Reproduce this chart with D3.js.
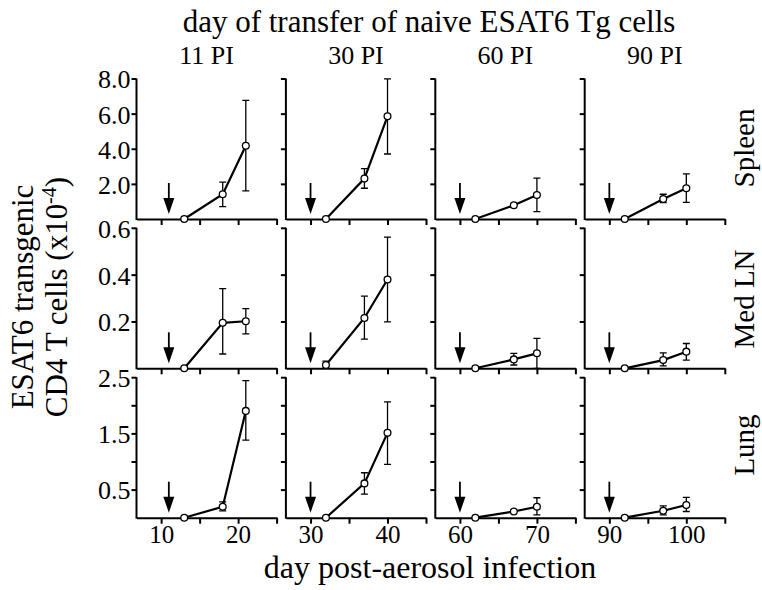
<!DOCTYPE html>
<html>
<head>
<meta charset="utf-8">
<script src="https://cdn.jsdelivr.net/npm/d3@7"></script>
<style>
  body { margin: 0; background: #fff; }
  svg text { font-family: "Liberation Serif", "Times New Roman", serif; fill: #000; }
</style>
</head>
<body>
<div class="chart"></div>
<script>
// panel titles / rows
const columns = ["11 PI", "30 PI", "60 PI", "90 PI"];
const transferDays = [11, 30, 60, 90];
const firstTicks = [10, 30, 60, 90];
const rowNames = ["Spleen", "Med LN", "Lung"];

// days sampled in each column
const days = [[13, 18, 21], [32, 37, 40], [62, 67, 70], [92, 97, 100]];

// Spleen (x10^-4)
const spleenMean = [[0, 1.41, 4.17], [0, 2.30, 5.85], [0, 0.78, 1.37], [0, 1.14, 1.75]];
const spleenLo   = [[0, 0.70, 1.60], [0, 1.75, 3.70], [0, 0.78, 0.42], [0, 0.93, 0.95]];
const spleenHi   = [[0, 2.10, 6.76], [0, 2.87, 7.98], [0, 0.78, 2.33], [0, 1.41, 2.57]];

// Med LN
const medMean = [[0, 0.194, 0.201], [0.014, 0.215, 0.379], [0, 0.038, 0.064], [0, 0.035, 0.071]];
const medLo   = [[0, 0.061, 0.147], [0, 0.125, 0.198], [0, 0.014, 0], [0, 0.010, 0.035]];
const medHi   = [[0, 0.340, 0.255], [0.031, 0.308, 0.560], [0, 0.064, 0.128], [0, 0.066, 0.106]];

// Lung
const lungMean = [[0, 0.195, 1.90], [0, 0.61, 1.51], [0, 0.11, 0.195], [0, 0.124, 0.225]];
const lungLo   = [[0, 0.12, 1.38], [0, 0.42, 0.95], [0, 0.11, 0.05], [0, 0.05, 0.11]];
const lungHi   = [[0, 0.28, 2.44], [0, 0.80, 2.06], [0, 0.11, 0.355], [0, 0.21, 0.36]];

// y axes per row
const yMax = [8, 0.6, 2.5];
const yTicks = [[2, 4, 6, 8], [0.2, 0.4, 0.6], [0.5, 1, 1.5, 2, 2.5]];
const yLabelled = [[2, 4, 6, 8], [0.2, 0.4, 0.6], [0.5, 1.5, 2.5]];

const rowData = [
  [spleenMean, spleenLo, spleenHi],
  [medMean, medLo, medHi],
  [lungMean, lungLo, lungHi]
];

const W = 762, H = 590;
const left0 = 136.5, colStep = 149.4, pw = 140.1;
const bottoms = [219, 368.3, 517.7], ph = 140.5;

const svg = d3.select(".chart").append("svg")
  .attr("width", W).attr("height", H);

// headings
svg.append("text")
  .attr("x", 429).attr("y", 32)
  .attr("text-anchor", "middle")
  .style("font-size", "31px")
  .text("day of transfer of naive ESAT6 Tg cells");

const line = d3.line();

for (let c = 0; c < 4; c++) {
  const L = left0 + c * colStep;
  const x = d3.scaleLinear()
    .domain([firstTicks[c] - 3.2, firstTicks[c] + 15])
    .range([L, L + pw]);

  svg.append("text")
    .attr("x", L + pw / 2).attr("y", 64)
    .attr("text-anchor", "middle")
    .style("font-size", "26px")
    .text(columns[c]);

  for (let r = 0; r < 3; r++) {
    const B = bottoms[r];
    const y = d3.scaleLinear().domain([0, yMax[r]]).range([B, B - ph]);
    const g = svg.append("g");

    // y axis
    const yAxis = d3.axisLeft(y)
      .tickValues(yTicks[r])
      .tickSize(5).tickSizeOuter(0).tickPadding(1)
      .tickFormat(d => (c === 0 && yLabelled[r].includes(d)) ? d3.format(".1f")(d) : "");
    const ya = g.append("g").attr("transform", "translate(" + L + ",0)").call(yAxis);
    ya.select(".domain").attr("d", "M0," + (B + 1) + "V" + (B - ph));
    ya.selectAll("text").style("font-size", "26px").attr("dy", "0.36em");

    // x axis
    const xt = d3.range(firstTicks[c], firstTicks[c] + 16, 5);
    const xAxis = d3.axisBottom(x)
      .tickValues(xt)
      .tickSize(6).tickSizeOuter(0).tickPadding(2)
      .tickFormat(d => (r === 2 && (d - firstTicks[c]) % 10 === 0) ? d : "");
    const xa = g.append("g").attr("transform", "translate(0," + B + ")").call(xAxis);
    xa.selectAll("text").style("font-size", "25px");

    g.selectAll(".domain, .tick line").attr("stroke", "#000").attr("stroke-width", 2);

    // arrow at transfer day
    const ax = x(transferDays[c]);
    g.append("line")
      .attr("x1", ax).attr("x2", ax)
      .attr("y1", B - 36).attr("y2", B - 19)
      .attr("stroke", "#000").attr("stroke-width", 1.8);
    g.append("path")
      .attr("d", "M" + (ax - 5.5) + "," + (B - 21) + "L" + (ax + 5.5) + "," + (B - 21) + "L" + ax + "," + (B - 5) + "Z")
      .attr("fill", "#000");

    const [mean, lo, hi] = rowData[r];
    const pts = days[c].map((d, i) => ({ d: d, m: mean[c][i], lo: lo[c][i], hi: hi[c][i] }));

    // error bars
    pts.filter(p => p.hi > p.lo).forEach(p => {
      const px = x(p.d);
      g.append("path")
        .attr("d", "M" + px + "," + y(p.lo) + "V" + y(p.hi) +
          "M" + (px - 3.5) + "," + y(p.hi) + "H" + (px + 3.5) +
          "M" + (px - 3.5) + "," + y(p.lo) + "H" + (px + 3.5))
        .attr("fill", "none").attr("stroke", "#000").attr("stroke-width", 1.3);
    });

    g.append("path")
      .attr("d", line(pts.map(p => [x(p.d), y(p.m)])))
      .attr("fill", "none").attr("stroke", "#000").attr("stroke-width", 2.2);

    g.selectAll(".pt").data(pts).enter().append("circle")
      .attr("class", "pt")
      .attr("cx", p => x(p.d)).attr("cy", p => y(p.m))
      .attr("r", 3.4)
      .attr("fill", "#fff").attr("stroke", "#000").attr("stroke-width", 1.3);
  }
}

// row labels
const rowCenters = [148, 299, 445];
rowNames.forEach((n, r) => {
  svg.append("text")
    .attr("transform", "translate(754," + rowCenters[r] + ") rotate(-90)")
    .attr("text-anchor", "middle")
    .style("font-size", "29px")
    .text(n);
});

// y label
const yl = svg.append("text")
  .attr("transform", "translate(33,297) rotate(-90)")
  .attr("text-anchor", "middle")
  .style("font-size", "31px");
yl.append("tspan").attr("x", 0).attr("y", 0).text("ESAT6 transgenic");
const l2 = yl.append("tspan").attr("x", 0).attr("y", 34).text("CD4 T cells (x10");
l2.append("tspan").attr("dy", -11).style("font-size", "20px").text("-4");
yl.append("tspan").attr("dy", 11).text(")");

// x label
svg.append("text")
  .attr("x", 430).attr("y", 578)
  .attr("text-anchor", "middle")
  .style("font-size", "32px")
  .text("day post-aerosol infection");
</script>
</body>
</html>
